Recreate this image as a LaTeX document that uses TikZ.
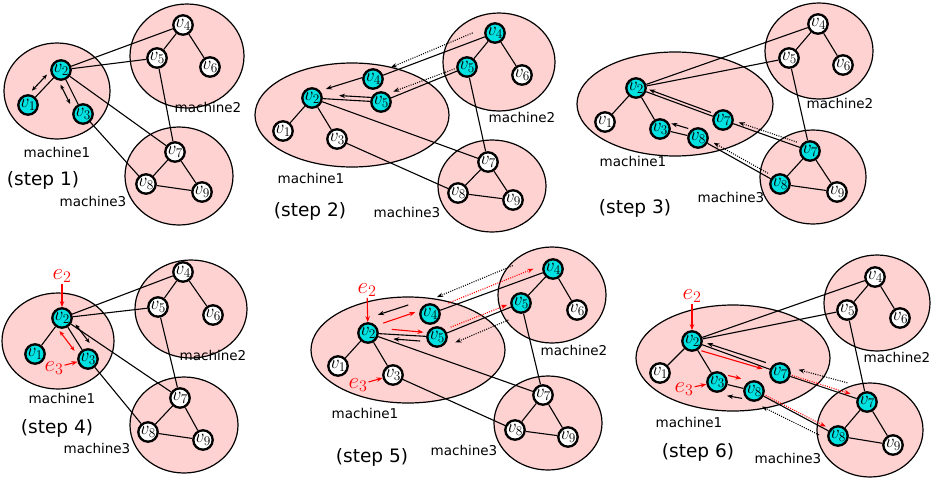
\RequirePackage{fix-cm}
\documentclass[tikz,border=0pt]{standalone}
\usepackage{fontspec}
\newfontfamily\labfont{DejaVu Sans}
\usetikzlibrary{calc,arrows.meta}
\definecolor{pinkfill}{RGB}{255,210,210}
\definecolor{vcyan}{RGB}{0,225,225}
\pgfdeclarelayer{back}\pgfdeclarelayer{mid}\pgfsetlayers{back,mid,main}
\newcommand\pa[7]{\draw[#1] ($(#2)!#4!(#3)!#6!90:(#3)$) -- ($(#2)!#5!(#3)!#7!90:(#3)$);}
\tikzset{
  vw/.style={circle, draw, line width=2.3pt, fill=white, minimum size=19pt, inner sep=0pt, font=\fontsize{19}{19}\selectfont},
  vc/.style={vw, fill=vcyan},
  mach/.style={draw, line width=1.2pt, fill=pinkfill},
  edg/.style={line width=1.1pt},
  sarr/.style={line width=1.1pt, -{Stealth[length=6pt,width=4.5pt]}},
  dsarr/.style={line width=1.1pt, {Stealth[length=5pt,width=4pt]}-{Stealth[length=5pt,width=4pt]}},
  rdsarr/.style={dsarr, red},
  dotarr/.style={line width=1.1pt, dash pattern=on 1pt off 1.3pt, -{Stealth[length=6pt,width=4.5pt]}},
  rarr/.style={sarr, red},
  rdot/.style={dotarr, red},
  lab/.style={font=\labfont\fontsize{13.5}{14}\selectfont, inner sep=0pt},
  slab/.style={font=\labfont\fontsize{18.5}{19}\selectfont, inner sep=0pt},
  elab/.style={text=red, font=\fontsize{23}{23}\selectfont, inner sep=1pt}
}
\begin{document}
\begin{tikzpicture}[x=1pt,y=-1pt]
\useasboundingbox (0,0) rectangle (935,493);
% ================= panel 1 =================
\node[vc] (A1) at (28,105) {$v_1$};
\node[vc] (A2) at (61,70) {$v_2$};
\node[vc] (A3) at (83,114) {$v_3$};
\node[vw] (A4) at (183,25) {$v_4$};
\node[vw] (A5) at (157,58) {$v_5$};
\node[vw] (A6) at (210,67) {$v_6$};
\node[vw] (A7) at (175,152) {$v_7$};
\node[vw] (A8) at (146,184) {$v_8$};
\node[vw] (A9) at (202,192) {$v_9$};
\node[lab] (Am1) at (57,152) {machine1};
\node[lab] (Am2) at (208,107) {machine2};
\node[lab] (Am3) at (93,201) {machine3};
\node[slab] (As) at (43,180) {(step 1)};
% ================= panel 2 =================
\node[vw] (B1) at (283,131) {$v_1$};
\node[vc] (B2) at (312,98) {$v_2$};
\node[vw] (B3) at (337,139) {$v_3$};
\node[vc] (B4c) at (373,79) {$v_4$};
\node[vc] (B5c) at (381,102) {$v_5$};
\node[vc] (B4) at (495,33) {$v_4$};
\node[vc] (B5) at (467,67) {$v_5$};
\node[vw] (B6) at (522,75) {$v_6$};
\node[vw] (B7) at (488,162) {$v_7$};
\node[vw] (B8) at (458,193) {$v_8$};
\node[vw] (B9) at (513,200) {$v_9$};
\node[lab] (Bm1) at (311,178) {machine1};
\node[lab] (Bm2) at (522,117) {machine2};
\node[lab] (Bm3) at (407,212) {machine3};
\node[slab] (Bs) at (310,211) {(step 2)};
% ================= panel 3 =================
\node[vw] (C1) at (605,122) {$v_1$};
\node[vc] (C2) at (636,88) {$v_2$};
\node[vc] (C3) at (660,129) {$v_3$};
\node[vc] (C7c) at (723,120) {$v_7$};
\node[vc] (C8c) at (698,138) {$v_8$};
\node[vw] (C4) at (818,24) {$v_4$};
\node[vw] (C5) at (789,58) {$v_5$};
\node[vw] (C6) at (843,65) {$v_6$};
\node[vc] (C7) at (810,151) {$v_7$};
\node[vc] (C8) at (780,184) {$v_8$};
\node[vw] (C9) at (837,192) {$v_9$};
\node[lab] (Cm1) at (633,161) {machine1};
\node[lab] (Cm2) at (840,103) {machine2};
\node[lab] (Cm3) at (731,197) {machine3};
\node[slab] (Cs) at (635,208) {(step 3)};
% ================= panel 4 =================
\node[vc] (D1) at (35,354) {$v_1$};
\node[vc] (D2) at (62,318) {$v_2$};
\node[vc] (D3) at (88,359) {$v_3$};
\node[vw] (D4) at (183,272) {$v_4$};
\node[vw] (D5) at (158,307) {$v_5$};
\node[vw] (D6) at (213,315) {$v_6$};
\node[vw] (D7) at (180,398) {$v_7$};
\node[vw] (D8) at (148,432) {$v_8$};
\node[vw] (D9) at (203,440) {$v_9$};
\node[lab] (Dm1) at (62,398) {machine1};
\node[lab] (Dm2) at (213,355) {machine2};
\node[lab] (Dm3) at (97,448) {machine3};
\node[slab] (Ds) at (57,428) {(step 4)};
\node[elab] (De2) at (62,276) {$e_2$};
\node[elab] (De3) at (54,368) {$e_3$};
% ================= panel 5 =================
\node[vw] (E1) at (338,366) {$v_1$};
\node[vc] (E2) at (368,333) {$v_2$};
\node[vw] (E3) at (393,375) {$v_3$};
\node[vc] (E4c) at (430,314) {$v_4$};
\node[vc] (E5c) at (437,337) {$v_5$};
\node[vc] (E4) at (553,269) {$v_4$};
\node[vc] (E5) at (521,303) {$v_5$};
\node[vw] (E6) at (577,310) {$v_6$};
\node[vw] (E7) at (543,395) {$v_7$};
\node[vw] (E8) at (515,430) {$v_8$};
\node[vw] (E9) at (568,437) {$v_9$};
\node[lab] (Em1) at (365,413) {machine1};
\node[lab] (Em2) at (574,350) {machine2};
\node[lab] (Em3) at (464,450) {machine3};
\node[slab] (Es) at (372,457) {(step 5)};
\node[elab] (Ee2) at (367,290) {$e_2$};
\node[elab] (Ee3) at (358,385) {$e_3$};
% ================= panel 6 =================
\node[vw] (F1) at (660,373) {$v_1$};
\node[vc] (F2) at (692,341) {$v_2$};
\node[vc] (F3) at (717,382) {$v_3$};
\node[vc] (F7c) at (780,373) {$v_7$};
\node[vc] (F8c) at (754,391) {$v_8$};
\node[vw] (F4) at (875,277) {$v_4$};
\node[vw] (F5) at (847,310) {$v_5$};
\node[vw] (F6) at (900,318) {$v_6$};
\node[vc] (F7) at (867,402) {$v_7$};
\node[vc] (F8) at (838,436) {$v_8$};
\node[vw] (F9) at (893,445) {$v_9$};
\node[lab] (Fm1) at (689,422) {machine1};
\node[lab] (Fm2) at (897,357) {machine2};
\node[lab] (Fm3) at (788,458) {machine3};
\node[slab] (Fs) at (698,452) {(step 6)};
\node[elab] (Fe2) at (692,296) {$e_2$};
\node[elab] (Fe3) at (684,389) {$e_3$};
% ================= machines =================
\begin{pgfonlayer}{back}
\draw[mach] (57,91) ellipse [x radius=53pt, y radius=48pt];
\draw[mach] (187,56) ellipse [x radius=57pt, y radius=52pt];
\draw[mach] (179,176) ellipse [x radius=54pt, y radius=49pt];
\draw[mach] (352,115) ellipse [x radius=97pt, y radius=52pt];
\draw[mach] (499,62) ellipse [x radius=56pt, y radius=49pt];
\draw[mach] (492,186) ellipse [x radius=54pt, y radius=46pt];
\draw[mach] (675,104) ellipse [x radius=98pt, y radius=52pt];
\draw[mach] (819,51) ellipse [x radius=54pt, y radius=48pt];
\draw[mach] (813,177) ellipse [x radius=53pt, y radius=47pt];
\draw[mach] (58,341) ellipse [x radius=56pt, y radius=48pt];
\draw[mach] (191,309) ellipse [x radius=56pt, y radius=49pt];
\draw[mach] (184,425) ellipse [x radius=54pt, y radius=48pt];
\draw[mach] (408,350) ellipse [x radius=97pt, y radius=53pt];
\draw[mach] (552,295) ellipse [x radius=54pt, y radius=48pt];
\draw[mach] (548,423) ellipse [x radius=54pt, y radius=47pt];
\draw[mach] (733,358) ellipse [x radius=97pt, y radius=53pt];
\draw[mach] (877,303) ellipse [x radius=53pt, y radius=48pt];
\draw[mach] (870,430) ellipse [x radius=53pt, y radius=47pt];
\end{pgfonlayer}
% ================= edges and arrows =================
\begin{pgfonlayer}{mid}
% panel 1
\draw[edg] (A2)--(A1) (A2)--(A3) (A2)--(A4) (A2)--(A5) (A2)--(A7) (A3)--(A8)
  (A4)--(A5) (A4)--(A6) (A5)--(A7) (A7)--(A8) (A7)--(A9) (A8)--(A9);
\pa{dsarr}{A1}{A2}{0.27}{0.73}{7pt}{7pt}
\pa{dsarr}{A2}{A3}{0.26}{0.70}{-7pt}{-7pt}
% panel 2
\draw[edg] (B2)--(B1) (B2)--(B3) (B2)--(B7) (B3)--(B8) (B4)--(B5) (B4)--(B6)
  (B5)--(B7) (B7)--(B8) (B7)--(B9) (B8)--(B9) (B4c)--(B4) (B5c)--(B5) (B2)--(B5c);
\pa{sarr}{B4c}{B2}{0.15}{0.75}{-4.5pt}{-4.5pt}
\pa{sarr}{B5c}{B2}{0.14}{0.61}{-4pt}{-4pt}
\pa{dotarr}{B4}{B4c}{0.16}{0.84}{-8pt}{-4.5pt}
\pa{dotarr}{B5}{B5c}{0.13}{0.835}{-3pt}{-5pt}
% panel 3
\draw[edg] (C2)--(C1) (C2)--(C3) (C2)--(C4) (C2)--(C5) (C4)--(C5) (C4)--(C6)
  (C5)--(C7) (C7)--(C8) (C7)--(C9) (C8)--(C9) (C2)--(C7c) (C7c)--(C7) (C3)--(C8c) (C8c)--(C8);
\pa{sarr}{C7c}{C2}{0.15}{0.86}{-3pt}{-3pt}
\pa{sarr}{C8c}{C3}{0.30}{0.75}{-7pt}{-8pt}
\pa{dotarr}{C7}{C7c}{0.167}{0.83}{-4pt}{-3pt}
\pa{dotarr}{C8}{C8c}{0.167}{0.83}{-3.5pt}{-3.5pt}
% panel 4
\draw[edg] (D2)--(D1) (D2)--(D3) (D2)--(D4) (D2)--(D5) (D2)--(D7) (D3)--(D8)
  (D4)--(D5) (D4)--(D6) (D5)--(D7) (D7)--(D8) (D7)--(D9) (D8)--(D9);
\pa{rdsarr}{D2}{D3}{0.20}{0.71}{-9pt}{-7pt}
\pa{dsarr}{D2}{D3}{0.26}{0.74}{8pt}{10pt}
\draw[rarr] (De2) -- (D2);
\draw[rarr] (De3) -- (D3);
% panel 5
\draw[edg] (E2)--(E1) (E2)--(E3) (E2)--(E7) (E3)--(E8) (E4)--(E5) (E4)--(E6)
  (E5)--(E7) (E7)--(E8) (E7)--(E9) (E8)--(E9) (E4c)--(E4) (E5c)--(E5) (E2)--(E5c);
\pa{rarr}{E2}{E4c}{0.27}{0.79}{5pt}{6pt}
\pa{sarr}{E4c}{E2}{0.28}{0.77}{-15pt}{-14.5pt}
\pa{rarr}{E2}{E5c}{0.34}{0.80}{5pt}{4pt}
\pa{sarr}{E5c}{E2}{0.24}{0.63}{5pt}{4.5pt}
\pa{dotarr}{E4}{E4c}{0.28}{0.905}{-17pt}{-13.5pt}
\pa{rdot}{E4c}{E4}{0.16}{0.86}{4pt}{7pt}
\pa{rdot}{E5c}{E5}{0.18}{0.85}{4pt}{3.5pt}
\pa{dotarr}{E5}{E5c}{0.20}{0.835}{11pt}{12pt}
\draw[rarr] (Ee2) -- (E2);
\draw[rarr] (Ee3) -- (E3);
% panel 6
\draw[edg] (F2)--(F1) (F2)--(F3) (F2)--(F4) (F2)--(F5) (F4)--(F5) (F4)--(F6)
  (F5)--(F7) (F7)--(F8) (F7)--(F9) (F8)--(F9) (F2)--(F7c) (F7c)--(F7) (F3)--(F8c) (F8c)--(F8);
\pa{sarr}{F7c}{F2}{0.18}{0.84}{-5pt}{-3pt}
\pa{rarr}{F2}{F7c}{0.13}{0.81}{-6pt}{-2pt}
\pa{rarr}{F3}{F8c}{0.245}{0.60}{9pt}{9pt}
\pa{sarr}{F8c}{F3}{0.26}{0.66}{10pt}{11pt}
\pa{rdot}{F7c}{F7}{0.13}{0.80}{1.5pt}{2.5pt}
\pa{dotarr}{F7}{F7c}{0.27}{0.82}{-12pt}{-9pt}
\pa{rdot}{F8c}{F8}{0.13}{0.84}{1.5pt}{2.5pt}
\pa{dotarr}{F8}{F8c}{0.18}{0.85}{8pt}{10pt}
\draw[rarr] (Fe2) -- (F2);
\draw[rarr] (Fe3) -- (F3);
\end{pgfonlayer}
\end{tikzpicture}
\end{document}
